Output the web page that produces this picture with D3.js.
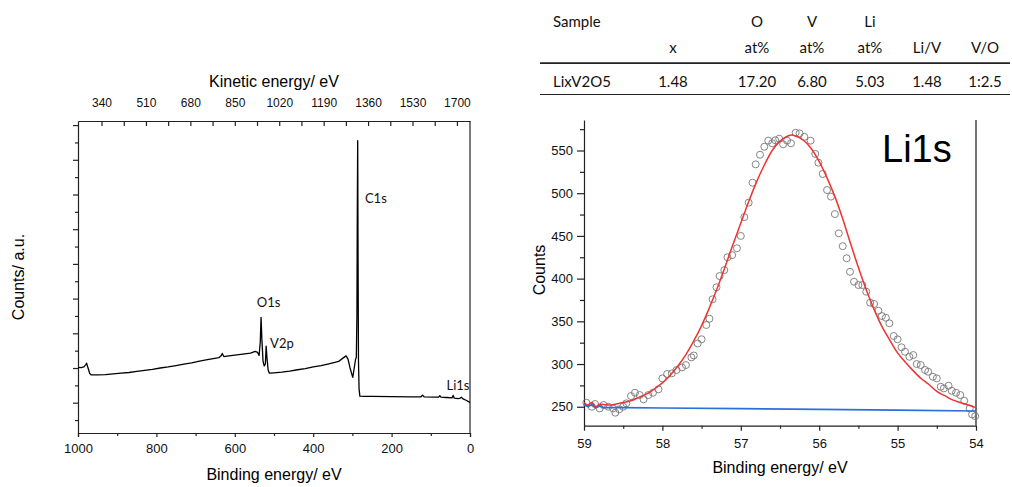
<!DOCTYPE html>
<html><head><meta charset="utf-8">
<script src="https://cdn.jsdelivr.net/npm/d3@7"></script>
<style>
body{margin:0;background:#fff;}
svg{display:block;}
.ax text{font-family:"Liberation Sans",Arial,sans-serif;fill:#111;}
.ax path,.ax line{stroke:#222;stroke-width:1.2;}
</style></head>
<body>
<svg id="c" width="1012" height="487"></svg>
<script>
// ---------- Survey spectrum (left) ----------
const surveyBE = [1000,992,985,980,978,975,970,966,950,930,910,890,870,850,830,810,790,770,750,730,710,690,670,655,640,635,632,628,620,600,580,560,548,542,538,535,533,531,528,525,522,520,518,515,512,500,480,460,440,420,400,380,360,345,335,326,316,311,306,301,299,296,292,290,288.5,287.5,286.5,285.5,284.5,283,281,270,250,200,150,125,121,117,90,80,77,74,60,46,43,40,30,25,22,18,10,5,0];
const surveyCounts = [2.02,2.01,2.03,2.10,2.14,2.02,1.84,1.80,1.80,1.81,1.83,1.85,1.87,1.90,1.93,1.96,2.00,2.03,2.07,2.11,2.15,2.20,2.24,2.27,2.30,2.35,2.42,2.33,2.34,2.37,2.40,2.43,2.48,2.45,2.36,2.75,3.46,2.85,2.20,2.06,2.12,2.63,2.30,1.95,1.85,1.86,1.88,1.91,1.95,1.98,2.03,2.07,2.12,2.16,2.19,2.27,2.35,2.25,2.00,1.80,1.73,1.95,2.25,2.30,3.50,6.50,8.55,5.00,2.20,1.40,1.19,1.18,1.18,1.175,1.17,1.17,1.22,1.17,1.16,1.16,1.20,1.16,1.15,1.14,1.21,1.13,1.12,1.13,1.16,1.11,1.07,1.04,1.00];
const peakLabels = ["C1s","O1s","V2p","Li1s"];
const peakLabelBE = [268, 544, 510, 60];
const peakLabelCounts = [6.75, 3.75, 2.57, 1.37];
const bindingTicks = [0,200,400,600,800,1000];
const bindingMinor = [100,300,500,700,900];
const kineticTicks = [340,510,680,850,1020,1190,1360,1530,1700];
const kineticMinor = [425,595,765,935,1105,1275,1445,1615];
const countTicksMajor = [1,2,3,4,5,6,7,8,9];
const countTicksMinor = [0.5,1.5,2.5,3.5,4.5,5.5,6.5,7.5,8.5];

// ---------- Table ----------
const tableHead1 = ["Sample","","O","V","Li","",""];
const tableHead2 = ["","x","at%","at%","at%","Li/V","V/O"];
const tableRow = ["LixV2O5","1.48","17.20","6.80","5.03","1.48","1:2.5"];

// ---------- Li1s high-res (right) ----------
const li1sBE = [58.97,58.90,58.86,58.80,58.75,58.69,58.63,58.60,58.55,58.50,58.46,58.40,58.35,58.29,58.24,58.18,58.12,58.05,58.00,57.94,57.88,57.82,57.75,57.70,57.63,57.60,57.55,57.50,57.44,57.40,57.36,57.31,57.27,57.21,57.17,57.11,57.05,57.00,56.955,56.90,56.85,56.81,56.755,56.70,56.65,56.60,56.56,56.51,56.46,56.41,56.36,56.30,56.25,56.19,56.11,56.05,56.01,55.955,55.90,55.85,55.80,55.75,55.70,55.65,55.607,55.556,55.50,55.45,55.40,55.35,55.30,55.245,55.20,55.15,55.105,55.05,55.00,54.95,54.906,54.85,54.80,54.756,54.705,54.65,54.61,54.55,54.50,54.45,54.41,54.35,54.31,54.255,54.20,54.15,54.08,54.05,54.01];
const li1sCounts = [254.7,250,253.2,248,252,250,248,243,247,250,254,262.5,266.4,263.7,258.7,263.7,266.4,270.4,283.2,288.3,289,293,296,298.8,307.8,310,324,329,345.7,353,375.8,389.8,403,410,425,427.5,435.5,450,472,488.9,512.3,533.8,545,554.4,561.5,558.4,562,563.8,557.2,561.5,558.4,570.8,570,566,561.5,546,535.7,522.5,503.7,496,475.6,453,438,423.8,408,396.4,392.5,392.5,384.7,371.8,370.3,362.4,356.2,354.2,347.7,332.8,328.9,319.6,314.4,308.5,310.5,300,298.8,293,291,285.1,283.2,273.4,271.5,274.6,268.7,266.4,263.7,257,248,241,239];
const fitBE = [59.00,58.95,58.90,58.85,58.80,58.70,58.60,58.50,58.40,58.30,58.20,58.10,58.00,57.90,57.80,57.70,57.60,57.50,57.40,57.30,57.20,57.10,57.00,56.90,56.80,56.70,56.60,56.50,56.40,56.35,56.30,56.20,56.10,56.00,55.90,55.80,55.70,55.60,55.50,55.40,55.30,55.20,55.10,55.00,54.90,54.80,54.70,54.60,54.50,54.40,54.30,54.20,54.10,54.00];
const fitCounts = [255,252,255,250,253,252,253,255,257,261,265,271,278,287,298,311,327,345,366,389,414,440,465,490,513,533,550,561,567,568,567,562,552,537,518,496,470,441,413,387,364,344,328,313,302,292,283,276,268,263,258,255,252,249];
const bgBE = [59.00,58.95,58.90,58.85,58.80,58.75,58.50,58.00,57.00,56.00,55.00,54.00];
const bgCounts = [253,250,252.5,248.5,251,249,249,248.5,247.8,247,246,245];
const li1sXTicks = [59,58,57,56,55,54];
const li1sXMinor = [58.5,57.5,56.5,55.5,54.5];
const li1sYTicks = [250,300,350,400,450,500,550];
const li1sYMinor = [275,325,375,425,475,525,575];

const svg = d3.select("#c");

// ===== LEFT CHART =====
const xL = d3.scaleLinear().domain([1000,0]).range([78,470]);
const xK = d3.scaleLinear().domain([250,1750]).range([78,470]);
const yL = d3.scaleLinear().domain([0.127,9.118]).range([433,121]);

const gL = svg.append("g");
gL.append("g").attr("class","ax").attr("transform","translate(0,433)")
  .call(d3.axisBottom(xL).tickValues(bindingTicks).tickSize(4).tickPadding(7).tickFormat(d3.format("d")))
  .call(g=>g.selectAll("text").attr("font-size",13));
gL.append("g").attr("class","ax").attr("transform","translate(0,433)")
  .call(d3.axisBottom(xL).tickValues(bindingMinor).tickSize(3).tickFormat(""))
  .call(g=>g.select(".domain").remove());
gL.append("g").attr("class","ax").attr("transform","translate(0,121)")
  .call(d3.axisTop(xK).tickValues(kineticTicks).tickSizeInner(-5).tickSizeOuter(0).tickPadding(14).tickFormat(d3.format("d")))
  .call(g=>g.selectAll("text").attr("font-size",12));
gL.append("g").attr("class","ax").attr("transform","translate(0,121)")
  .call(d3.axisTop(xK).tickValues(kineticMinor).tickSize(-5).tickFormat(""))
  .call(g=>g.select(".domain").remove());
gL.append("g").attr("class","ax").attr("transform","translate(78,0)")
  .call(d3.axisLeft(yL).tickValues(countTicksMajor).tickSizeInner(5).tickSizeOuter(0).tickFormat(""));
gL.append("g").attr("class","ax").attr("transform","translate(78,0)")
  .call(d3.axisLeft(yL).tickValues(countTicksMinor).tickSize(3).tickFormat(""))
  .call(g=>g.select(".domain").remove());
gL.append("line").attr("x1",470).attr("x2",470).attr("y1",121).attr("y2",433)
  .attr("stroke","#222").attr("stroke-width",1.2);

const surveyData = surveyBE.map((b,i)=>({be:b,c:surveyCounts[i]}));
gL.append("path").datum(surveyData)
  .attr("fill","none").attr("stroke","#000").attr("stroke-width",1.3).attr("stroke-linejoin","round")
  .attr("d", d3.line().x(d=>xL(d.be)).y(d=>yL(d.c)));

gL.selectAll("text.pk").data(peakLabels).join("text").attr("class","pk")
  .attr("x",(d,i)=>xL(peakLabelBE[i])).attr("y",(d,i)=>yL(peakLabelCounts[i]))
  .attr("font-family","Lato, 'Noto Sans', sans-serif").attr("font-size",13).attr("fill","#111")
  .text(d=>d);

gL.append("text").attr("x",274).attr("y",87).attr("text-anchor","middle")
  .attr("font-family","'Liberation Sans',Arial,sans-serif").attr("font-size",16).text("Kinetic energy/ eV");
gL.append("text").attr("x",274).attr("y",480).attr("text-anchor","middle")
  .attr("font-family","'Liberation Sans',Arial,sans-serif").attr("font-size",16).text("Binding energy/ eV");
gL.append("text").attr("transform","translate(24,277) rotate(-90)").attr("text-anchor","middle")
  .attr("font-family","'Liberation Sans',Arial,sans-serif").attr("font-size",16).text("Counts/ a.u.");

// ===== TABLE =====
const colX = [553, 673, 757, 812, 870, 927, 985];
const colAnchor = ["start","middle","middle","middle","middle","middle","middle"];
const tf = "Lato, 'Noto Sans', sans-serif";
const gT = svg.append("g").attr("font-family",tf).attr("font-size",15).attr("fill","#111");
[[tableHead1,27],[tableHead2,53],[tableRow,87]].forEach(([row,y])=>{
  gT.selectAll(null).data(row).join("text")
    .attr("x",(d,i)=>colX[i]).attr("y",y).attr("text-anchor",(d,i)=>colAnchor[i]).text(d=>d);
});
gT.append("line").attr("x1",540).attr("x2",1010).attr("y1",63.2).attr("y2",63.2).attr("stroke","#222").attr("stroke-width",1.8);
gT.append("line").attr("x1",540).attr("x2",1010).attr("y1",94.5).attr("y2",94.5).attr("stroke","#222").attr("stroke-width",1);

// ===== RIGHT CHART =====
const xR = d3.scaleLinear().domain([59,54]).range([584,976]);
const yR = d3.scaleLinear().domain([227.8,585.7]).range([425.7,120]);
const gR = svg.append("g");
gR.append("g").attr("class","ax").attr("transform","translate(0,425.7)")
  .call(d3.axisBottom(xR).tickValues(li1sXTicks).tickSizeInner(5).tickSizeOuter(0).tickPadding(8).tickFormat(d3.format("d")))
  .call(g=>g.selectAll("text").attr("font-size",13));
gR.append("g").attr("class","ax").attr("transform","translate(0,425.7)")
  .call(d3.axisBottom(xR).tickValues(li1sXMinor).tickSize(3).tickFormat(""))
  .call(g=>g.select(".domain").remove());
gR.append("g").attr("class","ax").attr("transform","translate(584,0)")
  .call(d3.axisLeft(yR).tickValues(li1sYTicks).tickSizeInner(7).tickSizeOuter(0).tickPadding(4).tickFormat(d3.format("d")))
  .call(g=>g.selectAll("text").attr("font-size",13));
gR.append("g").attr("class","ax").attr("transform","translate(584,0)")
  .call(d3.axisLeft(yR).tickValues(li1sYMinor).tickSize(4).tickFormat(""))
  .call(g=>g.select(".domain").remove());
gR.append("line").attr("x1",976).attr("x2",976).attr("y1",120).attr("y2",425.7)
  .attr("stroke","#444").attr("stroke-width",1.5);

gR.selectAll("circle").data(li1sBE).join("circle")
  .attr("cx",d=>xR(d)).attr("cy",(d,i)=>yR(li1sCounts[i])).attr("r",3.5)
  .attr("fill","none").attr("stroke","#777").attr("stroke-width",0.9);
gR.append("path").datum(bgBE.map((b,i)=>[b,bgCounts[i]]))
  .attr("fill","none").attr("stroke","#2a70d8").attr("stroke-width",1.7)
  .attr("d", d3.line().x(d=>xR(d[0])).y(d=>yR(d[1])));
gR.append("path").datum(fitBE.map((b,i)=>[b,fitCounts[i]]))
  .attr("fill","none").attr("stroke","#ee3333").attr("stroke-width",1.5)
  .attr("d", d3.line().curve(d3.curveMonotoneX).x(d=>xR(d[0])).y(d=>yR(d[1])));

gR.append("text").attr("x",882).attr("y",162)
  .attr("font-family","'Liberation Sans',Arial,sans-serif").attr("font-size",38).attr("fill","#000").text("Li1s");
gR.append("text").attr("x",780).attr("y",473).attr("text-anchor","middle")
  .attr("font-family","'Liberation Sans',Arial,sans-serif").attr("font-size",16).text("Binding energy/ eV");
gR.append("text").attr("transform","translate(545,270) rotate(-90)").attr("text-anchor","middle")
  .attr("font-family","'Liberation Sans',Arial,sans-serif").attr("font-size",16).text("Counts");
</script>
</body></html>
